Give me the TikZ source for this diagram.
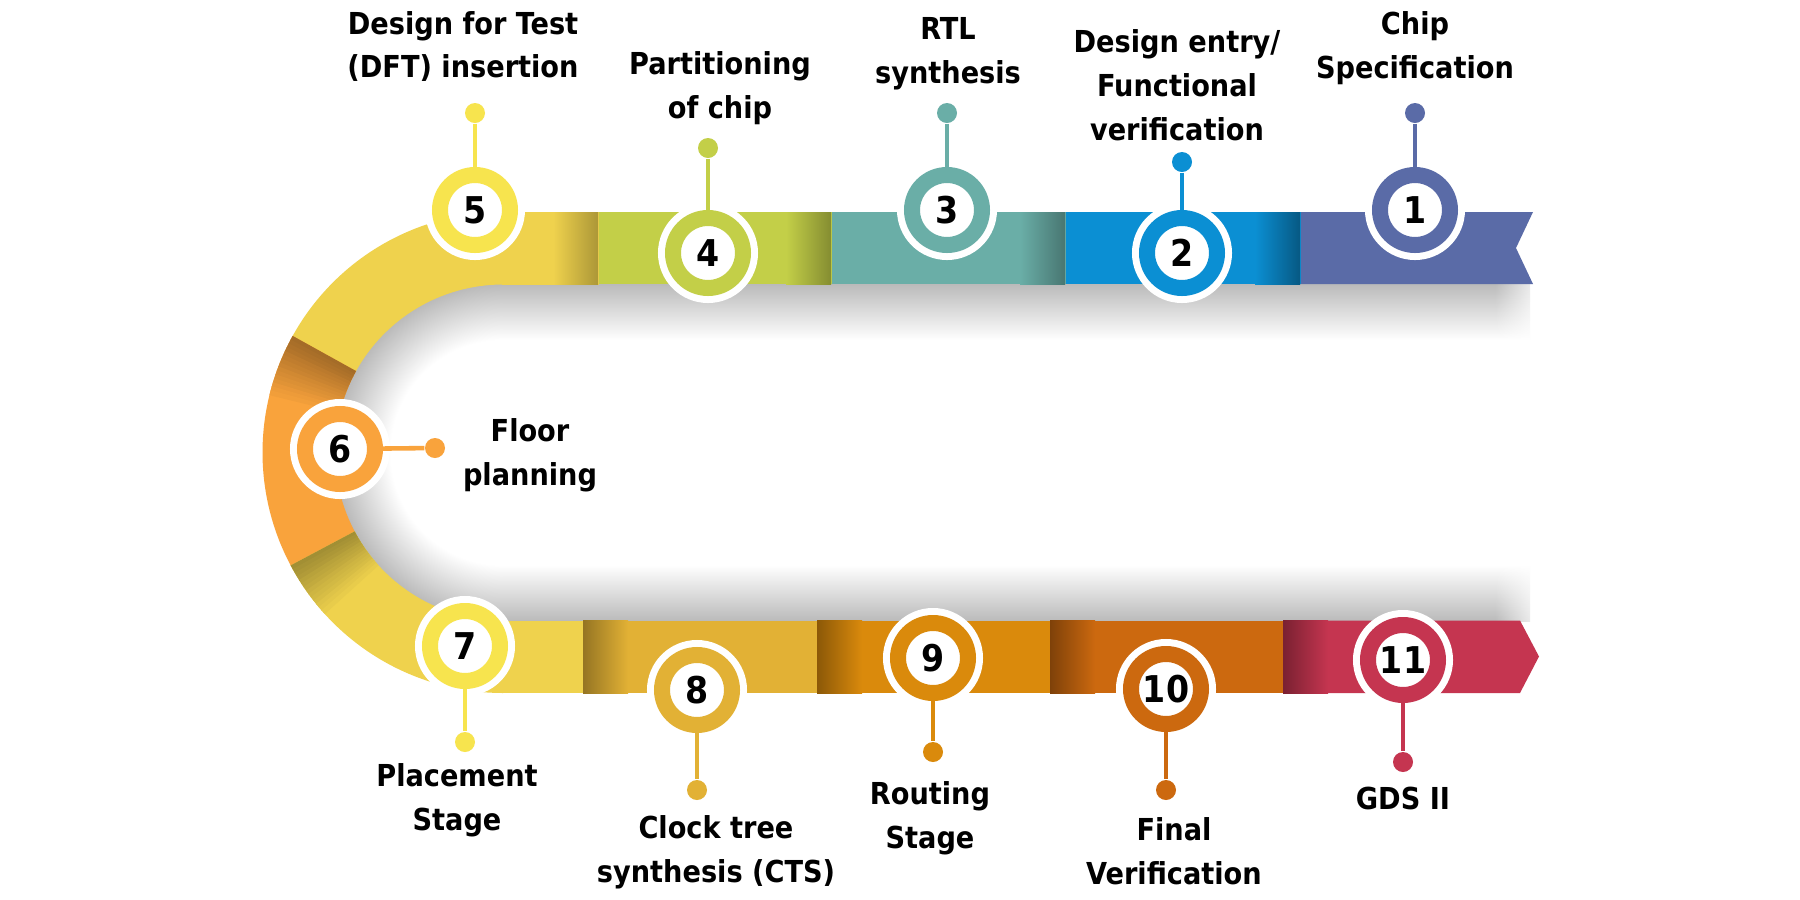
\documentclass[tikz,border=0pt]{standalone}
\usepackage{fontspec}
\setmainfont{DejaVu Sans Condensed}
\usetikzlibrary{positioning,fadings}

\definecolor{specblue}{RGB}{90,107,167}
\definecolor{entryblue}{RGB}{11,143,211}
\definecolor{rtlteal}{RGB}{106,174,167}
\definecolor{partgreen}{RGB}{195,207,72}
\definecolor{bandyellow}{RGB}{239,210,77}
\definecolor{pinyellow}{RGB}{247,228,78}
\definecolor{floororange}{RGB}{249,163,60}
\definecolor{ctsgold}{RGB}{226,177,53}
\definecolor{routeorange}{RGB}{218,138,12}
\definecolor{finalorange}{RGB}{204,105,15}
\definecolor{gdsred}{RGB}{197,53,80}

\pgfdeclareradialshading{innershadow}{\pgfpoint{0bp}{0bp}}{color(0bp)=(white); color(16.7bp)=(white); color(25bp)=(black!27); color(50bp)=(black!27)}

\newcommand{\bendpart}[3]{\fill[#1] (bend) ++(#2:2.405) arc[start angle=#2, end angle=#3, radius=2.405] -- ++(#3:-0.725) arc[start angle=#3, end angle=#2, radius=1.68] -- cycle;}

\tikzset{
    stepnum/.style={circle, draw=#1, line width=1.6mm, fill=white, inner sep=0pt,
        minimum size=7mm, font=\fontsize{10.5}{10.5}\selectfont\bfseries,
        preaction={draw=white, line width=3.0mm}},
    pindot/.style={circle, fill=#1, inner sep=0pt, minimum size=2mm},
    pinline/.style={draw=#1, line width=1.3pt},
    steptext/.style={align=center, font=\fontsize{8.6}{12.5}\selectfont\bfseries},
    shadowdown/.style={top color=black!27, bottom color=white},
    shadowup/.style={top color=white, bottom color=black!27}
}

\begin{document}
\begin{tikzpicture}
    \useasboundingbox (0,0) rectangle (18,-9);
    \fill[white] (0,0) rectangle (18,-9);
    \coordinate (bend) at (5.03,-4.525);
    \begin{scope}
        \clip (2,-2) rectangle (5.035,-7);
        \shade[shading=innershadow] (bend) circle (1.685);
    \end{scope}
    \shade[shadowdown] (5.03,-2.84) rectangle (15.3,-3.40);
    \shade[shadowup] (5.03,-5.65) rectangle (15.3,-6.21);
    \fill[white, path fading=west] (14.95,-2.8) rectangle (15.45,-6.3);

    \fill[specblue] (13.00,-2.12) -- (15.33,-2.12) -- (15.16,-2.48) -- (15.33,-2.84) -- (13.00,-2.84) -- cycle;
    \fill[entryblue] (10.65,-2.12) rectangle (13.01,-2.84);
    \shade[left color=entryblue, right color=entryblue!62!black] (12.55,-2.12) rectangle (13.00,-2.84);
    \fill[rtlteal] (8.31,-2.12) rectangle (10.66,-2.84);
    \shade[left color=rtlteal, right color=rtlteal!68!black] (10.20,-2.12) rectangle (10.65,-2.84);
    \fill[partgreen] (5.98,-2.12) rectangle (8.32,-2.84);
    \shade[left color=partgreen, right color=partgreen!68!black] (7.86,-2.12) rectangle (8.31,-2.84);
    \bendpart{bandyellow}{90}{151.5}
    \fill[bandyellow] (5.02,-2.12) rectangle (5.99,-2.845);
    \shade[left color=bandyellow, right color=bandyellow!72!black] (5.53,-2.12) rectangle (5.98,-2.845);
    \bendpart{floororange}{151}{208.5}
    \foreach \k in {0,...,14} {
        \pgfmathtruncatemacro\mix{66+\k*34/15}
        \bendpart{floororange!\mix!black}{151+\k}{152.2+\k}
    }
    \bendpart{bandyellow}{208}{270}
    \foreach \k in {0,...,13} {
        \pgfmathtruncatemacro\mix{68+\k*32/14}
        \bendpart{bandyellow!\mix!black}{208+\k}{209.2+\k}
    }
    \fill[bandyellow] (5.02,-6.205) rectangle (5.84,-6.93);
    \fill[ctsgold] (5.83,-6.205) rectangle (8.18,-6.93);
    \shade[left color=ctsgold!66!black, right color=ctsgold] (5.83,-6.205) rectangle (6.28,-6.93);
    \fill[routeorange] (8.17,-6.205) rectangle (10.51,-6.93);
    \shade[left color=routeorange!64!black, right color=routeorange] (8.17,-6.205) rectangle (8.62,-6.93);
    \fill[finalorange] (10.50,-6.205) rectangle (12.84,-6.93);
    \shade[left color=finalorange!62!black, right color=finalorange] (10.50,-6.205) rectangle (10.95,-6.93);
    \fill[gdsred] (12.83,-6.205) -- (15.20,-6.205) -- (15.39,-6.565) -- (15.20,-6.93) -- (12.83,-6.93) -- cycle;
    \shade[left color=gdsred!62!black, right color=gdsred] (12.83,-6.205) rectangle (13.28,-6.93);

    \node[stepnum=specblue] (spec) at (14.15,-2.10) {1};
    \node[pindot=specblue] (spec-pin) at (14.15,-1.13) {};
    \draw[pinline=specblue] (spec-pin) -- (spec);
    \node[steptext] (spec-text) at (14.15,-0.48) {Chip\\Specification};

    \node[stepnum=entryblue] (entry) at (11.82,-2.53) {2};
    \node[pindot=entryblue] (entry-pin) at (11.82,-1.62) {};
    \draw[pinline=entryblue] (entry-pin) -- (entry);
    \node[steptext] (entry-text) at (11.77,-0.85) {Design entry/\\Functional\\verification};

    \node[stepnum=rtlteal] (rtl) at (9.47,-2.10) {3};
    \node[pindot=rtlteal] (rtl-pin) at (9.47,-1.13) {};
    \draw[pinline=rtlteal] (rtl-pin) -- (rtl);
    \node[steptext] (rtl-text) at (9.48,-0.54) {RTL\\synthesis};

    \node[stepnum=partgreen] (part) at (7.08,-2.53) {4};
    \node[pindot=partgreen] (part-pin) at (7.08,-1.48) {};
    \draw[pinline=partgreen] (part-pin) -- (part);
    \node[steptext] (part-text) at (7.20,-0.88) {Partitioning\\of chip};

    \node[stepnum=pinyellow] (dft) at (4.75,-2.10) {5};
    \node[pindot=pinyellow] (dft-pin) at (4.75,-1.13) {};
    \draw[pinline=pinyellow] (dft-pin) -- (dft);
    \node[steptext] (dft-text) at (4.63,-0.465) {Design for Test\\(DFT) insertion};

    \node[stepnum=floororange] (floor) at (3.40,-4.49) {6};
    \node[pindot=floororange] (floor-pin) at (4.35,-4.48) {};
    \draw[pinline=floororange] (floor) -- (floor-pin);
    \node[steptext] (floor-text) at (5.30,-4.55) {Floor\\planning};

    \node[stepnum=pinyellow] (place) at (4.65,-6.46) {7};
    \node[pindot=pinyellow] (place-pin) at (4.65,-7.42) {};
    \draw[pinline=pinyellow] (place) -- (place-pin);
    \node[steptext] (place-text) at (4.57,-8.00) {Placement\\Stage};

    \node[stepnum=ctsgold] (cts) at (6.97,-6.90) {8};
    \node[pindot=ctsgold] (cts-pin) at (6.97,-7.90) {};
    \draw[pinline=ctsgold] (cts) -- (cts-pin);
    \node[steptext] (cts-text) at (7.16,-8.52) {Clock tree\\synthesis (CTS)};

    \node[stepnum=routeorange] (route) at (9.33,-6.58) {9};
    \node[pindot=routeorange] (route-pin) at (9.33,-7.52) {};
    \draw[pinline=routeorange] (route) -- (route-pin);
    \node[steptext] (route-text) at (9.30,-8.18) {Routing\\Stage};

    \node[stepnum=finalorange] (final) at (11.66,-6.89) {10};
    \node[pindot=finalorange] (final-pin) at (11.66,-7.90) {};
    \draw[pinline=finalorange] (final) -- (final-pin);
    \node[steptext] (final-text) at (11.74,-8.51) {Final\\Verification};

    \node[stepnum=gdsred] (gds) at (14.03,-6.60) {11};
    \node[pindot=gdsred] (gds-pin) at (14.03,-7.62) {};
    \draw[pinline=gdsred] (gds) -- (gds-pin);
    \node[steptext] (gds-text) at (14.03,-7.98) {GDS II};
\end{tikzpicture}
\end{document}
